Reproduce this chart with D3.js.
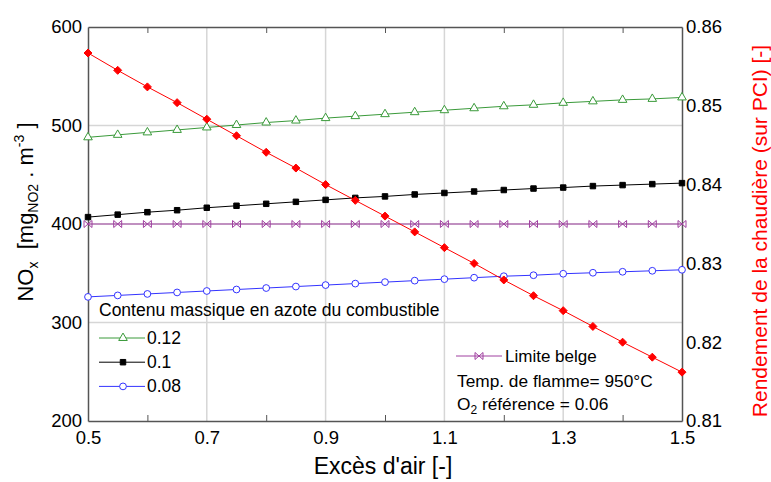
<!DOCTYPE html>
<html>
<head>
<meta charset="utf-8">
<script src="https://cdn.jsdelivr.net/npm/d3@7"></script>
<style>
  body { margin: 0; background: #fff; }
  svg { font-family: "Liberation Sans", Arial, sans-serif; }
</style>
</head>
<body>
<div id="chart"></div>
<script>
// excess air (x) values, one every 0.05
const exces = [0.5, 0.55, 0.6, 0.65, 0.7, 0.75, 0.8, 0.85, 0.9, 0.95, 1.0,
               1.05, 1.1, 1.15, 1.2, 1.25, 1.3, 1.35, 1.4, 1.45, 1.5];

// NOx series for nitrogen content of fuel (left axis)
const nox012 = [488, 490.5, 493, 495.5, 498, 500.5, 503, 505, 507.5, 509.5, 511.5,
                513.5, 515.5, 517.5, 519.5, 521, 523, 524.5, 526, 527, 528.5];
const nox010 = [407, 409.5, 412, 414, 416.5, 418.5, 420.5, 422.5, 424.5, 426.5, 428,
                430, 431.5, 433, 434.5, 436, 437, 438.5, 439.5, 440.5, 441.5];
const nox008 = [326, 327.5, 329, 330.5, 332, 333.5, 335, 336.5, 338, 339.5, 341,
                342.5, 344, 345.5, 347, 348, 349.5, 350.5, 351.5, 352.5, 353.5];
const limite = [400, 400, 400, 400, 400, 400, 400, 400, 400, 400, 400,
                400, 400, 400, 400, 400, 400, 400, 400, 400, 400];

// boiler efficiency (right axis)
const rendement = [0.8567, 0.8545, 0.8524, 0.8504, 0.8483, 0.8462, 0.8441, 0.8421, 0.8400, 0.8380, 0.8360,
                   0.8340, 0.8320, 0.8300, 0.8279, 0.8259, 0.8240, 0.8220, 0.8200, 0.8181, 0.8162];

const xTicks = [0.5, 0.7, 0.9, 1.1, 1.3, 1.5];
const xMinor = [0.6, 0.8, 1.0, 1.2, 1.4];
const yTicks = [200, 300, 400, 500, 600];
const y2Ticks = [0.81, 0.82, 0.83, 0.84, 0.85, 0.86];

const width = 771, height = 482,
      margin = ({top: 27, right: 89, bottom: 61, left: 88});

const svg = d3.select("#chart")
    .append("svg")
    .attr("width", width)
    .attr("height", height);

const x = d3.scaleLinear()
    .domain([0.5, 1.5])
    .range([margin.left, width - margin.right]);

const y = d3.scaleLinear()
    .domain([200, 600])
    .range([height - margin.bottom, margin.top]);

const y2 = d3.scaleLinear()
    .domain([0.81, 0.86])
    .range([height - margin.bottom, margin.top]);

// grid lines
svg.append("g")
    .selectAll("line")
    .data(xTicks.slice(1, -1))
    .join("line")
    .attr("x1", d => x(d)).attr("x2", d => x(d))
    .attr("y1", y(200)).attr("y2", y(600))
    .attr("stroke", "#d6d6d6").attr("stroke-width", 1.5);

svg.append("g")
    .selectAll("line")
    .data(yTicks.slice(1, -1))
    .join("line")
    .attr("x1", x(0.5)).attr("x2", x(1.5))
    .attr("y1", d => y(d)).attr("y2", d => y(d))
    .attr("stroke", "#d6d6d6").attr("stroke-width", 1.5);

// axes (ticks pointing inward)
const axisColor = "#555";
const styleAxis = g => {
    g.attr("font-family", null);
    g.select(".domain").attr("stroke", axisColor).attr("stroke-width", 1.5);
    g.selectAll(".tick line").attr("stroke", axisColor);
    g.selectAll(".tick text").attr("fill", "#000").attr("font-size", 18.5);
};

svg.append("g")
    .attr("transform", `translate(0,${y(200)})`)
    .call(d3.axisBottom(x).tickValues(xTicks).tickFormat(d3.format(".1f")).tickSizeInner(0).tickSizeOuter(0).tickPadding(10))
    .call(styleAxis);

svg.append("g")
    .attr("transform", `translate(0,${y(200)})`)
    .call(d3.axisTop(x).tickValues(xMinor).tickFormat("").tickSizeInner(6).tickSizeOuter(0))
    .call(styleAxis)
    .call(g => g.select(".domain").remove());

svg.append("g")
    .attr("transform", `translate(0,${y(600)})`)
    .call(d3.axisBottom(x).tickValues(xMinor).tickFormat("").tickSizeInner(6).tickSizeOuter(0))
    .call(styleAxis);

svg.append("g")
    .attr("transform", `translate(${x(0.5)},0)`)
    .call(d3.axisLeft(y).tickValues(yTicks).tickSizeInner(0).tickSizeOuter(0).tickPadding(6))
    .call(styleAxis);

svg.append("g")
    .attr("transform", `translate(${x(1.5)},0)`)
    .call(d3.axisRight(y2).tickValues(y2Ticks).tickFormat(d3.format(".2f")).tickSizeInner(0).tickSizeOuter(0).tickPadding(4))
    .call(styleAxis);

// series
const markers = {
    tri: d3.symbol(d3.symbolTriangle, 32),
    square: d3.symbol(d3.symbolSquare, 30),
    circle: d3.symbol(d3.symbolCircle, 36),
    diamond: () => "M0,-4L4,0L0,4L-4,0Z",
    bowtie: () => "M-4,-3.5L4,3.5L4,-3.5L-4,3.5Z"
};

const series = [
    {vals: limite, color: "#a040a0", marker: "bowtie", fill: "none", scale: y},
    {vals: nox008, color: "#3333ff", marker: "circle", fill: "#fff", scale: y},
    {vals: nox010, color: "#000", marker: "square", fill: "#000", scale: y},
    {vals: nox012, color: "#3a9a3a", marker: "tri", fill: "#fff", scale: y},
    {vals: rendement, color: "#ff0000", marker: "diamond", fill: "#ff0000", scale: y2}
];

series.forEach(s => {
    const pts = exces.map((e, i) => [e, s.vals[i]]);
    svg.append("path")
        .datum(pts)
        .attr("fill", "none")
        .attr("stroke", s.color)
        .attr("stroke-width", 1)
        .attr("d", d3.line().x(d => x(d[0])).y(d => s.scale(d[1])));
    svg.append("g")
        .selectAll("path")
        .data(pts)
        .join("path")
        .attr("transform", d => `translate(${x(d[0])},${s.scale(d[1])})`)
        .attr("d", markers[s.marker])
        .attr("fill", s.fill)
        .attr("stroke", s.color)
        .attr("stroke-width", 1);
});

// legend 1
svg.append("text")
    .attr("x", 99).attr("y", 316)
    .attr("font-size", 17.5)
    .text("Contenu massique en azote du combustible");

const leg = [
    {label: "0.12", s: series[3]},
    {label: "0.1", s: series[2]},
    {label: "0.08", s: series[1]}
];
leg.forEach((l, i) => {
    const ly = 338 + i * 24.2;
    const g = svg.append("g");
    g.append("line").attr("x1", 99).attr("x2", 145).attr("y1", ly).attr("y2", ly)
        .attr("stroke", l.s.color).attr("stroke-width", 1);
    g.append("path").attr("transform", `translate(123,${ly})`)
        .attr("d", markers[l.s.marker]).attr("fill", l.s.fill).attr("stroke", l.s.color);
    g.append("text").attr("x", 147).attr("y", ly + 6).attr("font-size", 17.5).text(l.label);
});

// legend 2
const lg2 = svg.append("g");
lg2.append("line").attr("x1", 456).attr("x2", 502).attr("y1", 356).attr("y2", 356)
    .attr("stroke", series[0].color);
lg2.append("path").attr("transform", "translate(479,356)")
    .attr("d", markers.bowtie()).attr("fill", "none").attr("stroke", series[0].color);
lg2.append("text").attr("x", 505).attr("y", 362).attr("font-size", 17).text("Limite belge");
lg2.append("text").attr("x", 457).attr("y", 387).attr("font-size", 17.3).text("Temp. de flamme= 950°C");
const o2 = lg2.append("text").attr("x", 457).attr("y", 410).attr("font-size", 17.3);
o2.append("tspan").text("O");
o2.append("tspan").attr("font-size", 12).attr("dy", 4).text("2");
o2.append("tspan").attr("dy", -4).text(" référence = 0.06");

// axis titles
svg.append("text")
    .attr("x", 383).attr("y", 474)
    .attr("text-anchor", "middle")
    .attr("font-size", 23)
    .text("Excès d'air [-]");

const yt = svg.append("text")
    .attr("transform", "translate(33,212) rotate(-90)")
    .attr("text-anchor", "middle")
    .attr("font-size", 22)
    .style("white-space", "pre");
yt.append("tspan").text("NO");
yt.append("tspan").attr("font-size", 14).attr("dy", 5).text("x");
yt.append("tspan").attr("dy", -5).text("  [mg");
yt.append("tspan").attr("font-size", 14).attr("dy", 5).text("NO2");
yt.append("tspan").attr("dy", -5).text(" . m");
yt.append("tspan").attr("font-size", 14).attr("dy", -9).text("-3");
yt.append("tspan").attr("dy", 9).text(" ]");

svg.append("text")
    .attr("transform", "translate(767,231) rotate(-90)")
    .attr("text-anchor", "middle")
    .attr("fill", "#ff0000")
    .attr("font-size", 21)
    .text("Rendement de la chaudière (sur PCI) [-]");
</script>
</body>
</html>
